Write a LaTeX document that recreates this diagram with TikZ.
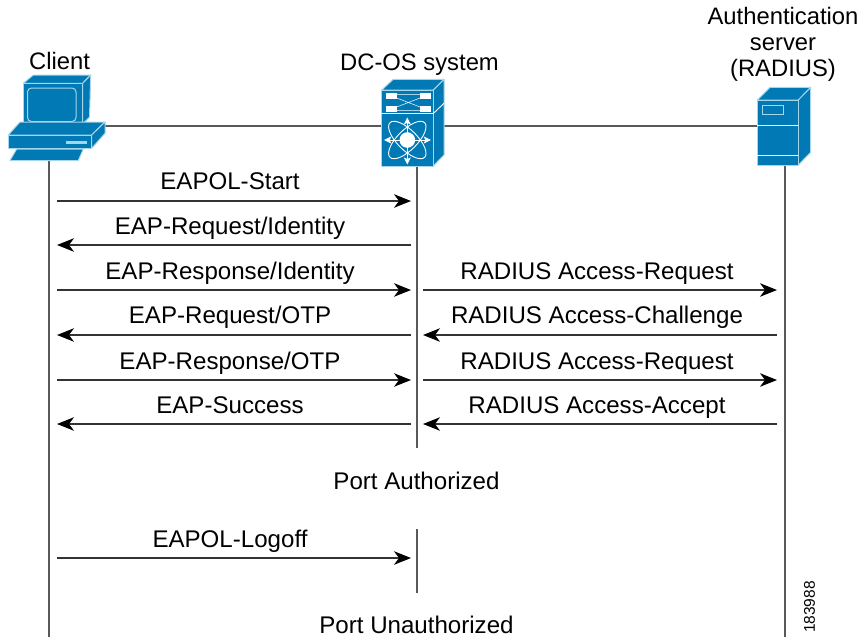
\documentclass[tikz,border=0pt]{standalone}
\usepackage{fontspec}
\setmainfont{Liberation Sans}
\usetikzlibrary{arrows.meta}
\definecolor{ciscoblue}{HTML}{0079B4}
\definecolor{ciscoedge}{HTML}{A6D6EA}
\tikzset{
  px/.style={x=1pt,y=-1pt},
  msg/.style={draw=black!80,line width=1.2pt,-{Stealth[length=17pt,width=13.5pt,inset=5pt,black]}},
  life/.style={draw=black!65,line width=1.3pt},
  link/.style={draw=black!65,line width=1.3pt},
  lbl/.style={font=\fontsize{24.1}{26}\selectfont,inner sep=0pt,anchor=base},
  hdr/.style={font=\fontsize{23.8}{26}\selectfont,inner sep=0pt,anchor=base},
  solid face/.style={fill=ciscoblue,draw=ciscoedge,line width=1pt,line join=round},
  wl/.style={draw=white,line width=.9pt},
  wa/.style={draw=white,line width=.9pt,-{Stealth[length=7pt,width=7pt,inset=1.5pt]}}
}
\begin{document}
\begin{tikzpicture}[px]
\useasboundingbox (0,0) rectangle (861,637);

% anchors of the three icons
\coordinate (clientR) at (105,126);
\coordinate (switchL) at (382,126);
\coordinate (switchR) at (444,126);
\coordinate (serverL) at (757,126);
\coordinate (clientB) at (49,160);
\coordinate (clientE) at (49,637);
\coordinate (switchB) at (417,166);
\coordinate (switchE) at (417,448);
\coordinate (logoffT) at (417,529);
\coordinate (logoffE) at (417,593);
\coordinate (serverB) at (785,165);
\coordinate (serverE) at (785,637);

\draw[link] (clientR) -- (switchL);
\draw[link] (switchR) -- (serverL);
\draw[life] (clientB) -- (clientE);
\draw[life] (switchB) -- (switchE);
\draw[life] (logoffT) -- (logoffE);
\draw[life] (serverB) -- (serverE);

% client icon
\draw[solid face] (23.3,83.3) -- (33.3,75) -- (90.7,75) -- (82.7,83.3) -- cycle;
\draw[solid face] (82.7,83.3) -- (90.7,75) -- (89.5,117) -- (82.7,124) -- cycle;
\draw[solid face] (23.3,83.3) rectangle (82.7,124);
\draw[fill=ciscoblue,draw=ciscoedge,line width=1pt,rounded corners=4pt] (27.5,88) rectangle (76,121.5);
\draw[solid face] (8.3,135) -- (20,122) -- (105,122) -- (91.7,135) -- cycle;
\draw[solid face] (91.7,135) -- (105,122) -- (105,133.3) -- (91.7,148.3) -- cycle;
\draw[solid face] (8.3,135) rectangle (91.7,148.3);
\fill[ciscoedge] (66,141.2) rectangle (87.3,143.6);
\draw[solid face] (16.7,149) -- (83.3,149) -- (78.3,160.5) -- (10,160.5) -- cycle;

% switch icon
\draw[solid face] (381.7,90) -- (393.3,79.3) -- (444,79.3) -- (433.3,90) -- cycle;
\draw[solid face] (433.3,90) -- (444,79.3) -- (444,155) -- (433.3,166) -- cycle;
\draw[solid face] (381.7,90) rectangle (433.3,166);
\draw[wl] (381.7,113.5) -- (433.3,113.5) -- (444,103.3);
\fill[white] (386,93.3) rectangle (396.7,99.3);
\fill[white] (420,93.3) rectangle (430.7,99.3);
\fill[white] (386,106) rectangle (396.7,112);
\fill[white] (420,106) rectangle (430.7,112);
\draw[draw=white,line width=.5pt] (396.7,94.5) -- (420,94.5) (396.7,110.5) -- (420,110.5)
  (396.7,98) -- (420,107) (396.7,107) -- (420,98);
\draw[wl,rotate around={45:(407.3,140)}] (407.3,140) ellipse (24.5pt and 10pt);
\draw[wl,rotate around={-45:(407.3,140)}] (407.3,140) ellipse (24.5pt and 10pt);
\draw[wa] (407.3,140) -- (407.3,117.5);
\draw[wa] (407.3,140) -- (407.3,164.5);
\draw[wa] (407.3,140) -- (384.2,140);
\draw[wa] (407.3,140) -- (430.8,140);
\fill[white] (407.3,140) circle (7.8pt);

% server icon
\draw[solid face] (757.3,100) -- (770,87.3) -- (810.7,87.3) -- (798.3,100) -- cycle;
\draw[solid face] (798.3,100) -- (810.7,87.3) -- (810.7,152.3) -- (798.3,165) -- cycle;
\draw[solid face] (757.3,100) rectangle (798.3,165);
\draw[draw=ciscoedge,line width=1.1pt] (762.3,105.7) rectangle (783.3,114.3);
\draw[wl] (757.3,125.7) -- (798.3,125.7);
\draw[wl] (757.3,155.7) -- (798.3,155.7);

% messages
\coordinate (c1) at (57,201);  \coordinate (s1) at (411,201);
\coordinate (c2) at (57,245);  \coordinate (s2) at (411,245);
\coordinate (c3) at (57,290);  \coordinate (s3) at (411,290);
\coordinate (c4) at (57,335);  \coordinate (s4) at (411,335);
\coordinate (c5) at (57,380);  \coordinate (s5) at (411,380);
\coordinate (c6) at (57,424);  \coordinate (s6) at (411,424);
\coordinate (c7) at (57,558);  \coordinate (s7) at (411,558);
\coordinate (t3) at (423,290); \coordinate (r3) at (777,290);
\coordinate (t4) at (423,335); \coordinate (r4) at (777,335);
\coordinate (t5) at (423,380); \coordinate (r5) at (777,380);
\coordinate (t6) at (423,424); \coordinate (r6) at (777,424);

\draw[msg] (c1) -- (s1);
\draw[msg] (s2) -- (c2);
\draw[msg] (c3) -- (s3);
\draw[msg] (s4) -- (c4);
\draw[msg] (c5) -- (s5);
\draw[msg] (s6) -- (c6);
\draw[msg] (c7) -- (s7);
\draw[msg] (t3) -- (r3);
\draw[msg] (r4) -- (t4);
\draw[msg] (t5) -- (r5);
\draw[msg] (r6) -- (t6);

% labels
\node[hdr] (lclient) at (59.5,69) {Client};
\node[hdr] (lswitch) at (419.5,70) {DC-OS system};
\node[hdr] (lserver1) at (783,24) {Authentication};
\node[hdr] (lserver2) at (783,50) {server};
\node[hdr] (lserver3) at (783,76) {(RADIUS)};
\node[lbl] (m1) at (230,189.5) {EAPOL-Start};
\node[lbl] (m2) at (230,234) {EAP-Request/Identity};
\node[lbl] (m3) at (230,279) {EAP-Response/Identity};
\node[lbl] (m4) at (230,323) {EAP-Request/OTP};
\node[lbl] (m5) at (230,369) {EAP-Response/OTP};
\node[lbl] (m6) at (230,413) {EAP-Success};
\node[lbl] (m7) at (230,547) {EAPOL-Logoff};
\node[lbl] (r3l) at (597,279) {RADIUS Access-Request};
\node[lbl] (r4l) at (597,323) {RADIUS Access-Challenge};
\node[lbl] (r5l) at (597,369) {RADIUS Access-Request};
\node[lbl] (r6l) at (597,413) {RADIUS Access-Accept};
\node[lbl] (auth) at (416.5,489) {Port Authorized};
\node[lbl] (unauth) at (416.5,633) {Port Unauthorized};
\node[font=\fontsize{15.5}{18}\selectfont,inner sep=0pt,rotate=90] (fig) at (809.5,607) {183988};
\end{tikzpicture}
\end{document}
